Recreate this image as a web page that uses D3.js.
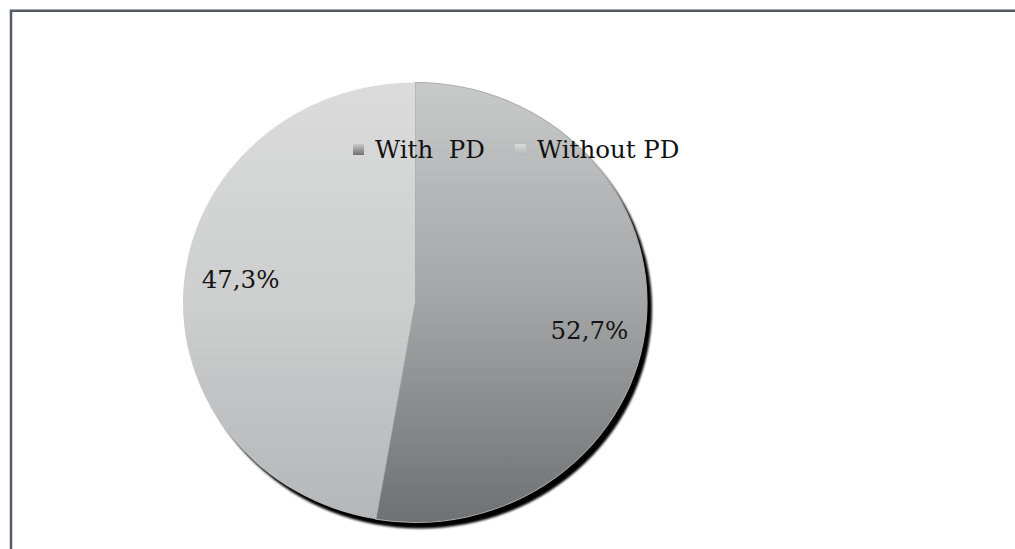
<!DOCTYPE html>
<html><head><meta charset="utf-8">
<script src="https://cdn.jsdelivr.net/npm/d3@7"></script>
<style>html,body{margin:0;padding:0;background:#fff;overflow:hidden}</style>
</head><body>
<svg id="chart" width="1015" height="549"></svg>
<script>
const categories = ["With  PD", "Without PD"];
const values = [52.7, 47.3];
const valueLabels = ["52,7%", "47,3%"];

const W = 1015, H = 549;
const svg = d3.select("#chart");
const defs = svg.append("defs");

const cx = 415, cy = 302.5, R = 220, sx = 232 / 220;

const grads = [
  {id: "g0", stops: ["#c8c9c9", "#a3a5a6", "#6e7172"]},
  {id: "g1", stops: ["#dbdbdb", "#cdcece", "#b4b6b7"]}
];
grads.forEach(g => {
  const lg = defs.append("linearGradient").attr("id", g.id)
    .attr("gradientUnits", "userSpaceOnUse")
    .attr("x1", 0).attr("y1", -R).attr("x2", 0).attr("y2", R);
  g.stops.forEach((c, i) => lg.append("stop").attr("offset", i / (g.stops.length - 1)).attr("stop-color", c));
  const lg2 = defs.append("linearGradient").attr("id", g.id + "l")
    .attr("x1", 0).attr("y1", 0).attr("x2", 0).attr("y2", 1);
  lg2.append("stop").attr("offset", 0).attr("stop-color", g.stops[0]);
  lg2.append("stop").attr("offset", 1).attr("stop-color", g.stops[2]);
});
const f = defs.append("filter").attr("id", "blur").attr("x", "-10%").attr("y", "-10%").attr("width", "120%").attr("height", "120%");
f.append("feGaussianBlur").attr("stdDeviation", 1);

// frame
svg.append("path").attr("d", `M11,${H} L11,10.75 L${W},10.75`)
  .attr("fill", "none").attr("stroke", "#535b65").attr("stroke-width", 2.5);

const pie = d3.pie().sort(null).value(d => d)
  .startAngle(0).endAngle(2 * Math.PI);
const arcs = pie(values);
const arc = d3.arc().innerRadius(0).outerRadius(R);

const g = svg.append("g").attr("transform", `translate(${cx},${cy}) scale(${sx},1)`);
// shadow
g.append("ellipse").attr("cx", 5 / sx).attr("cy", 6).attr("rx", R).attr("ry", R)
  .attr("fill", "#000").attr("filter", "url(#blur)");

g.selectAll("path.slice").data(arcs).enter().append("path")
  .attr("class", "slice")
  .attr("d", arc)
  .attr("fill", (d, i) => `url(#g${i})`)
  .attr("stroke", (d, i) => i === 0 ? "#a9abac" : "none")
  .attr("stroke-width", 1);

// labels
const labelArc = d3.arc().innerRadius(166).outerRadius(166);
const nudge = [14, -9];
svg.append("g").selectAll("text").data(arcs).enter().append("text")
  .attr("x", d => cx + labelArc.centroid(d)[0] * sx)
  .attr("y", (d, i) => cy + labelArc.centroid(d)[1] + nudge[i])
  .attr("text-anchor", "middle").attr("dominant-baseline", "central")
  .attr("font-family", "DejaVu Serif").attr("font-size", 24.5).attr("fill", "#151515")
  .text((d, i) => valueLabels[i]);

// legend
const legX = [353, 515];
const lg = svg.append("g");
categories.forEach((c, i) => {
  lg.append("rect").attr("x", legX[i]).attr("y", 144).attr("width", 11).attr("height", 11)
    .attr("fill", `url(#g${i}l)`);
  lg.append("text").attr("x", legX[i] + 22).attr("y", 157.5)
    .attr("font-family", "DejaVu Serif").attr("font-size", 24.5).attr("fill", "#111")
    .attr("xml:space", "preserve").style("white-space", "pre")
    .text(c);
});
</script>
</body></html>
